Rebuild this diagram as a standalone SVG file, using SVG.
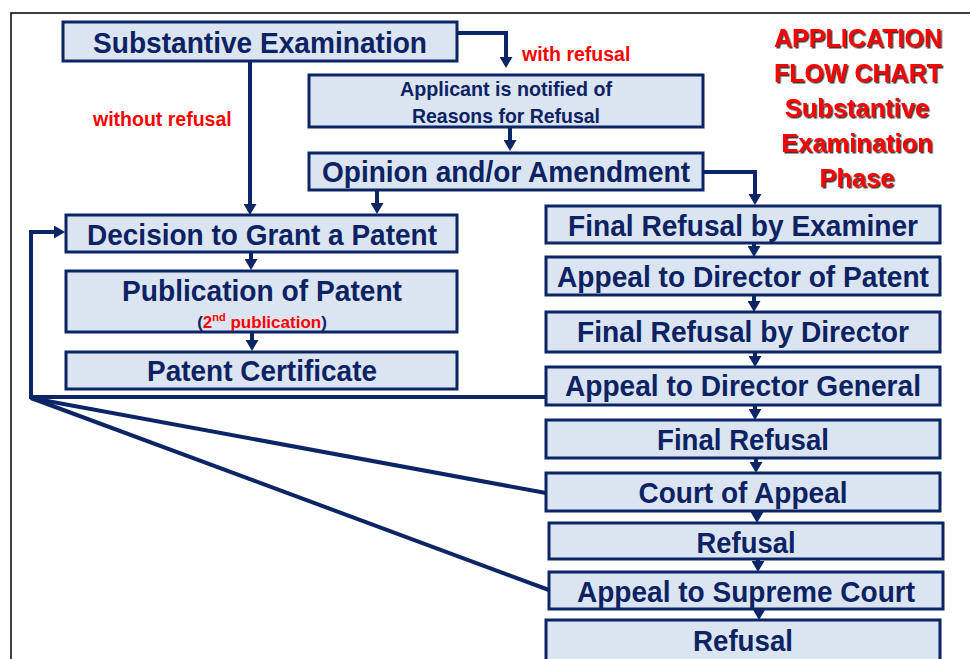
<svg xmlns="http://www.w3.org/2000/svg" width="970" height="659" viewBox="0 0 970 659">
<style>
.box{fill:#dbe5f1;stroke:#0c2566;stroke-width:3}
.t{font-family:"Liberation Sans",Arial,sans-serif;font-weight:bold;fill:#0c2263;text-anchor:middle}
.big{font-size:30px}
.mid{font-size:20.5px}
.red{font-family:"Liberation Sans",Arial,sans-serif;font-weight:bold;fill:#ff0000}
.title{font-family:"Liberation Sans",Arial,sans-serif;font-weight:bold;fill:#ff0000;font-size:25.5px;text-anchor:middle;filter:url(#sh)}
.c{fill:none;stroke:#0c2566;stroke-width:4}
.ca{fill:none;stroke:#0c2566;stroke-width:4;marker-end:url(#ah)}
</style>
<defs>
<marker id="ah" markerUnits="userSpaceOnUse" markerWidth="12" markerHeight="13" refX="3" refY="6.5" orient="auto">
<path d="M0,0 L11,6.5 L0,13 z" fill="#0c2566"/>
</marker>
<filter id="sh" x="-10%" y="-20%" width="120%" height="150%">
<feDropShadow dx="1.5" dy="1.5" stdDeviation="0.5" flood-color="#2a1010" flood-opacity="0.85"/>
</filter>
</defs>
<rect width="970" height="659" fill="#ffffff"/>
<path d="M11,659 V13 H970" fill="none" stroke="#000" stroke-width="1.5"/>

<g id="title">
<text class="title" x="858" y="47" textLength="168" lengthAdjust="spacingAndGlyphs">APPLICATION</text>
<text class="title" x="858" y="82" textLength="168" lengthAdjust="spacingAndGlyphs">FLOW CHART</text>
<text class="title" x="857" y="117">Substantive</text>
<text class="title" x="857" y="152">Examination</text>
<text class="title" x="857" y="187">Phase</text>
</g>

<g id="labels">
<text class="red" x="93" y="126" font-size="19.5">without refusal</text>
<text class="red" x="522" y="61" font-size="19.5">with refusal</text>
</g>

<g id="n-substantive"><rect class="box" x="63" y="22" width="394" height="39"/><text class="t big" x="260" y="53" textLength="334" lengthAdjust="spacingAndGlyphs">Substantive Examination</text></g>
<g id="n-applicant"><rect class="box" x="309" y="75" width="394" height="52"/><text class="t mid" x="506" y="96" textLength="212" lengthAdjust="spacingAndGlyphs">Applicant is notified of</text><text class="t mid" x="506" y="123" textLength="188" lengthAdjust="spacingAndGlyphs">Reasons for Refusal</text></g>
<g id="n-opinion"><rect class="box" x="309" y="153" width="394" height="37"/><text class="t big" x="506" y="182" textLength="368" lengthAdjust="spacingAndGlyphs">Opinion and/or Amendment</text></g>
<g id="n-decision"><rect class="box" x="66" y="215" width="391" height="37"/><text class="t big" x="262" y="245" textLength="350" lengthAdjust="spacingAndGlyphs">Decision to Grant a Patent</text></g>
<g id="n-publication"><rect class="box" x="66" y="271" width="391" height="61"/><text class="t big" x="262" y="301" textLength="280" lengthAdjust="spacingAndGlyphs">Publication of Patent</text>
<text x="262" y="328" font-family="Liberation Sans, Arial, sans-serif" font-weight="bold" font-size="17" text-anchor="middle"><tspan fill="#0c2263">(</tspan><tspan fill="#ff0000">2</tspan><tspan fill="#ff0000" font-size="11" dy="-7">nd</tspan><tspan fill="#ff0000" dy="7"> publication</tspan><tspan fill="#0c2263">)</tspan></text></g>
<g id="n-certificate"><rect class="box" x="66" y="352" width="391" height="37"/><text class="t big" x="262" y="381" textLength="230" lengthAdjust="spacingAndGlyphs">Patent Certificate</text></g>

<g id="n-fr-examiner"><rect class="box" x="546" y="206" width="394" height="37"/><text class="t big" x="743" y="236" textLength="350" lengthAdjust="spacingAndGlyphs">Final Refusal by Examiner</text></g>
<g id="n-appeal-dp"><rect class="box" x="546" y="257" width="394" height="38"/><text class="t big" x="743" y="287" textLength="372" lengthAdjust="spacingAndGlyphs">Appeal to Director of Patent</text></g>
<g id="n-fr-director"><rect class="box" x="546" y="312" width="394" height="40"/><text class="t big" x="743" y="342" textLength="332" lengthAdjust="spacingAndGlyphs">Final Refusal by Director</text></g>
<g id="n-appeal-dg"><rect class="box" x="546" y="367" width="394" height="38"/><text class="t big" x="743" y="396" textLength="356" lengthAdjust="spacingAndGlyphs">Appeal to Director General</text></g>
<g id="n-final-refusal"><rect class="box" x="546" y="420" width="394" height="38"/><text class="t big" x="743" y="450" textLength="172" lengthAdjust="spacingAndGlyphs">Final Refusal</text></g>
<g id="n-court"><rect class="box" x="546" y="473" width="394" height="38"/><text class="t big" x="743" y="503" textLength="209" lengthAdjust="spacingAndGlyphs">Court of Appeal</text></g>
<g id="n-refusal1"><rect class="box" x="549" y="523" width="394" height="36"/><text class="t big" x="746" y="553" textLength="99" lengthAdjust="spacingAndGlyphs">Refusal</text></g>
<g id="n-supreme"><rect class="box" x="549" y="572" width="394" height="37"/><text class="t big" x="746" y="602" textLength="338" lengthAdjust="spacingAndGlyphs">Appeal to Supreme Court</text></g>
<g id="n-refusal2"><rect class="box" x="546" y="620" width="394" height="42"/><text class="t big" x="743" y="651" textLength="100" lengthAdjust="spacingAndGlyphs">Refusal</text></g>

<g id="connectors">
<path class="ca" d="M250,61 V207"/>
<path class="ca" d="M457,33 H506 V60"/>
<path class="ca" d="M510,127 V143"/>
<path class="ca" d="M377,190 V206"/>
<path class="ca" d="M703,172 H755 V197"/>
<path class="ca" d="M251,252 V262"/>
<path class="ca" d="M252,332 V343"/>
<path class="ca" d="M754,243 V249"/>
<path class="ca" d="M754,295 V304"/>
<path class="ca" d="M755,352 V359"/>
<path class="ca" d="M755,405 V412"/>
<path class="ca" d="M756,458 V465"/>
<path class="ca" d="M757,511 V515"/>
<path class="ca" d="M758,559 V564"/>
<path class="ca" d="M759,609 V612"/>
<path class="ca" d="M546,397 H31 V232 H57"/>
<path class="c" d="M31,398 L546,493"/>
<path class="c" d="M31,398 L549,590"/>
</g>
</svg>
